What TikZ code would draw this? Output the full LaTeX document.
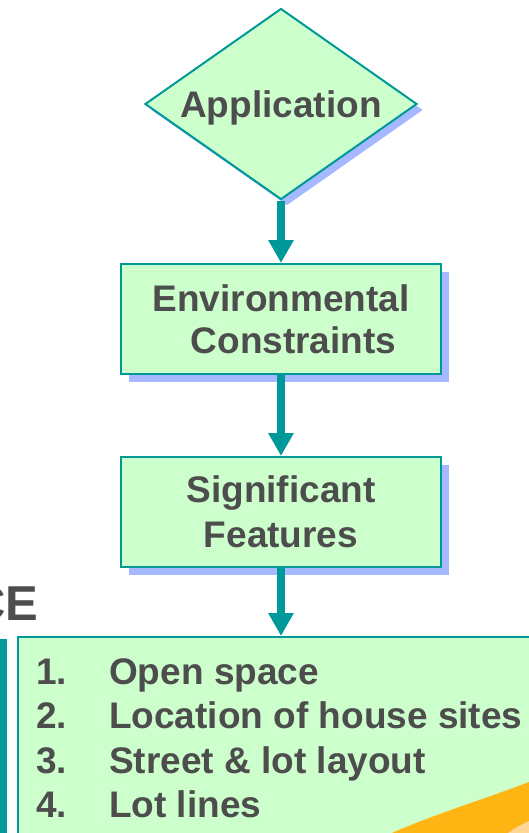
\documentclass[tikz,border=0pt]{standalone}
\usepackage{fontspec}
\setmainfont{Liberation Sans}
\usetikzlibrary{shapes.geometric,arrows.meta,shadows}
\definecolor{boxfill}{RGB}{204,255,204}
\definecolor{teal}{RGB}{0,153,153}
\definecolor{txtgrey}{RGB}{77,77,77}
\definecolor{shadowblue}{RGB}{166,184,255}
\definecolor{swooshorange}{RGB}{255,181,20}
\definecolor{swooshlight}{RGB}{255,214,150}
\tikzset{
  flowbox/.style={draw=teal, line width=2pt, fill=boxfill, text=txtgrey,
    font=\bfseries\fontsize{37}{42}\selectfont, align=center,
    minimum width=320pt, minimum height=110pt, inner sep=0pt,
    drop shadow={shadow xshift=8pt, shadow yshift=-8pt, opacity=1, fill=shadowblue}},
  decisionbox/.style={diamond, draw=teal, line width=2pt, fill=boxfill, text=txtgrey,
    font=\bfseries\fontsize{37}{42}\selectfont, text depth=0pt,
    minimum width=272pt, minimum height=191pt, inner sep=0pt, aspect=1.42,
    drop shadow={shadow xshift=6pt, shadow yshift=-6pt, opacity=1, fill=shadowblue}},
  flowarrow/.style={draw=teal, line width=8.5pt, -{Triangle[width=24pt,length=23pt]}},
  listtext/.style={text=txtgrey, font=\bfseries\fontsize{37}{42}\selectfont,
    inner sep=0pt, anchor=base west},
}
\begin{document}
\begin{tikzpicture}[x=1pt,y=-1pt]
\useasboundingbox (0,0) rectangle (529,833);
\begin{scope}
\clip (0,0) rectangle (529,833);
% bottom list box
\node[draw=teal, line width=2pt, fill=boxfill, anchor=north west,
      minimum width=560pt, minimum height=230pt, inner sep=0pt] (list) at (17,636) {};
% left teal bar
\fill[teal] (0,639) rectangle (7,860);
% "CE" heading fragment
\node[text=txtgrey, font=\bfseries\fontsize{49}{56}\selectfont, inner sep=0pt,
      anchor=base west] (ce) at (-30,620) {CE};
% orange swoosh
\fill[swooshorange] (392,833) .. controls (432,815) and (482,800) .. (529,782) -- (529,833) -- cycle;
\fill[swooshlight] (508,833) .. controls (515,828) and (522,824) .. (529,821) -- (529,833) -- cycle;
% flow nodes
\node[decisionbox] (app) at (281,104) {Application};
\node[flowbox] (env) at (281,319) {Environmental\\\hspace*{25pt}Constraints};
\node[flowbox, font=\bfseries\fontsize{37}{44.5}\selectfont] (sig) at (281,512) {Significant\\Features};
% connectors
\draw[flowarrow] (app.south) -- (env.north);
\draw[flowarrow] (env.south) -- (sig.north);
\draw[flowarrow] (sig.south) -- (sig.south |- list.north);
% list items
\node[listtext] (n1) at (36,684) {1.};
\node[listtext] (t1) at (109,684) {Open space};
\node[listtext] (n2) at (36,728) {2.};
\node[listtext] (t2) at (109,728) {Location of house sites};
\node[listtext] (n3) at (36,773) {3.};
\node[listtext] (t3) at (109,773) {Street \& lot layout};
\node[listtext] (n4) at (36,817) {4.};
\node[listtext] (t4) at (109,817) {Lot lines};
\end{scope}
\end{tikzpicture}
\end{document}
